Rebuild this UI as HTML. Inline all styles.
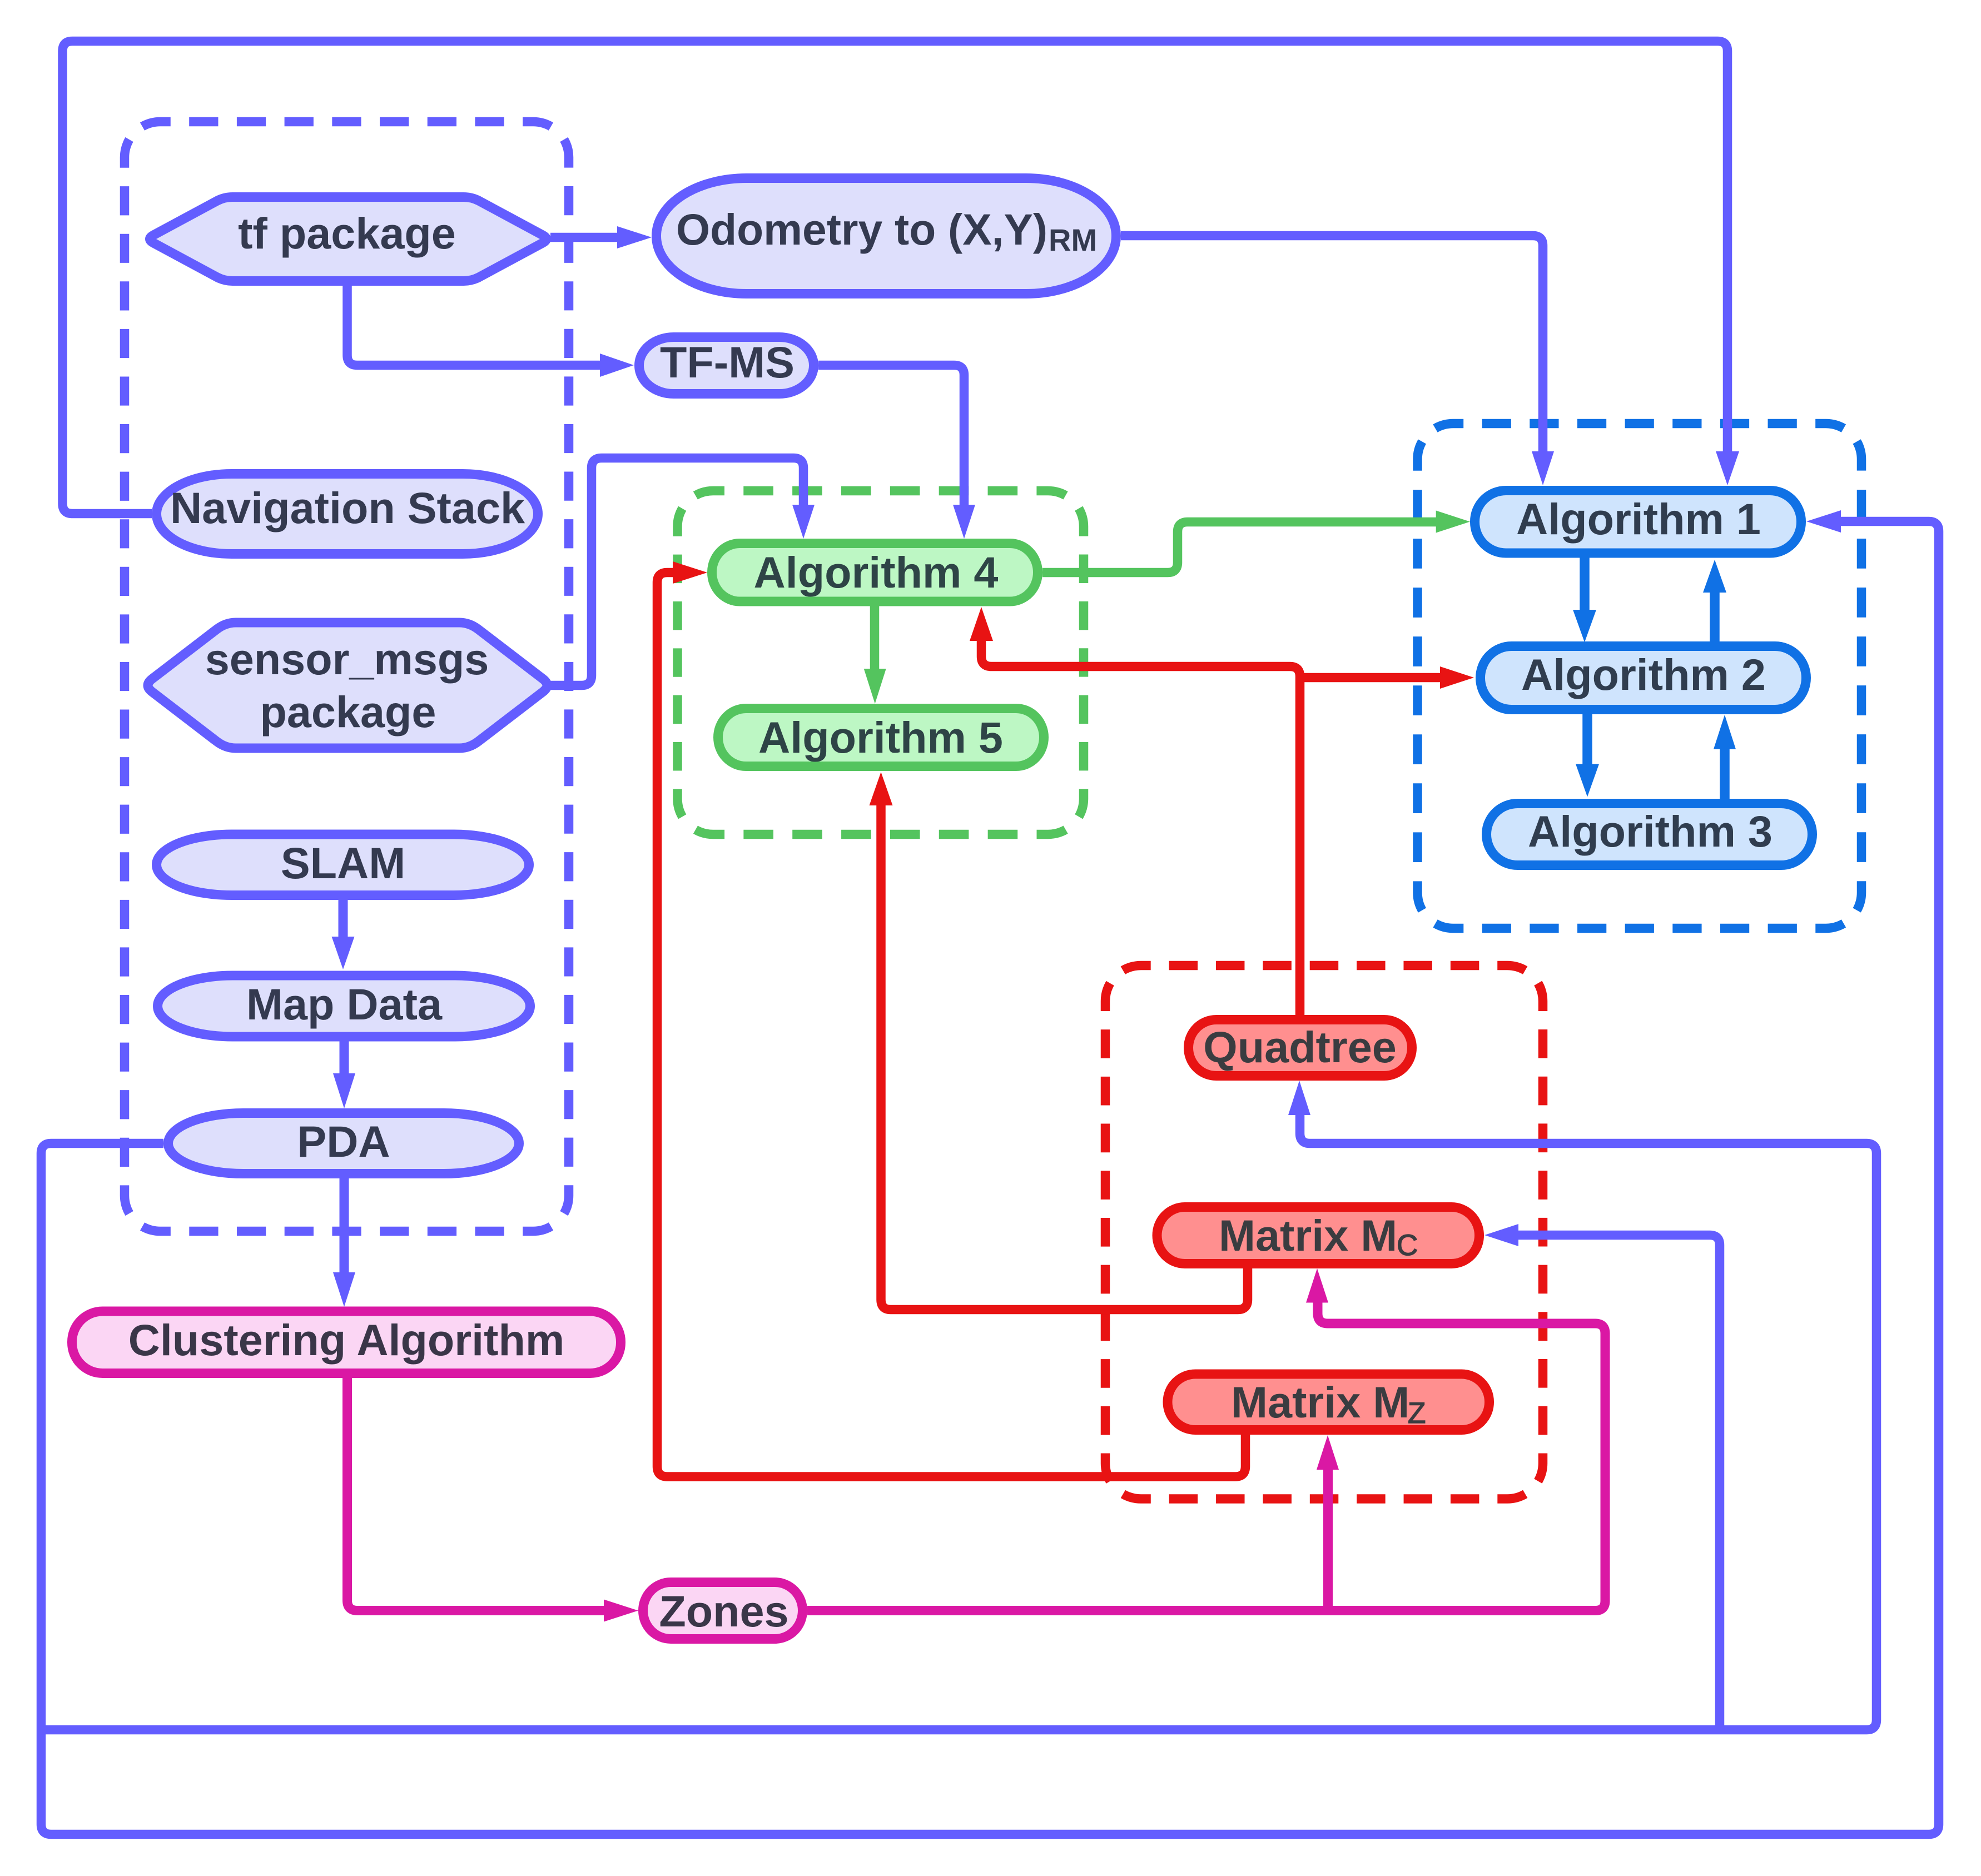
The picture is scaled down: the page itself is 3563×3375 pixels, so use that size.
<!DOCTYPE html>
<html>
<head>
<meta charset="utf-8">
<style>
html,body{margin:0;padding:0;background:#fff;}
svg{display:block;}
text{font-family:"Liberation Sans",sans-serif;font-weight:bold;font-size:79.2px;text-anchor:middle;}
.g{fill:none;stroke-width:16.5;stroke-dasharray:.61 .39;stroke-dashoffset:.805;}
.c{fill:none;stroke-width:16.5;}
.n{stroke-width:17;}
.pu{stroke:#635dff;}
.gr{stroke:#54c45e;}
.re{stroke:#e81313;}
.bl{stroke:#1071e5;}
.ma{stroke:#da18a4;}
.fpu{fill:#635dff;}
.fgr{fill:#54c45e;}
.fre{fill:#e81313;}
.fbl{fill:#1071e5;}
.fma{fill:#da18a4;}
.npu{fill:#dedffc;stroke:#635dff;}
.ngr{fill:#bdf7c4;stroke:#54c45e;}
.nre{fill:#ff8f8f;stroke:#e81313;}
.nbl{fill:#cfe4fd;stroke:#1071e5;}
.nma{fill:#fbd6f4;stroke:#da18a4;}
.tpu{fill:#343a50;}
.tgr{fill:#2e4446;}
.tre{fill:#3a3c40;}
.tbl{fill:#303d4f;}
.tma{fill:#3a3648;}
</style>
</head>
<body>
<svg xmlns="http://www.w3.org/2000/svg" width="3563" height="3375" viewBox="0 0 3563 3375">
<rect width="3563" height="3375" fill="#ffffff"/>

<!-- dashed groups -->
<g class="pu">
<path class="g" pathLength="9" d="M242.75 237.75A64 64 0 0 1 288 219H959A64 64 0 0 1 1004.25 237.75"/>
<path class="g" pathLength="23" d="M1004.25 237.75A64 64 0 0 1 1023 283V2151A64 64 0 0 1 1004.25 2196.25"/>
<path class="g" pathLength="9" d="M1004.25 2196.25A64 64 0 0 1 959 2215H288A64 64 0 0 1 242.75 2196.25"/>
<path class="g" pathLength="23" d="M242.75 2196.25A64 64 0 0 1 224 2151V283A64 64 0 0 1 242.75 237.75"/>
</g>
<g class="bl">
<path class="g" pathLength="9" d="M2568.25 780.75A64 64 0 0 1 2613.5 762H3284A64 64 0 0 1 3329.25 780.75"/>
<path class="g" pathLength="10" d="M3329.25 780.75A64 64 0 0 1 3348 826V1606A64 64 0 0 1 3329.25 1651.25"/>
<path class="g" pathLength="9" d="M3329.25 1651.25A64 64 0 0 1 3284 1670H2613.5A64 64 0 0 1 2568.25 1651.25"/>
<path class="g" pathLength="10" d="M2568.25 1651.25A64 64 0 0 1 2549.5 1606V826A64 64 0 0 1 2568.25 780.75"/>
</g>
<g class="gr">
<path class="g" pathLength="8" d="M1237.25 901.75A64 64 0 0 1 1282.5 883H1885A64 64 0 0 1 1930.25 901.75"/>
<path class="g" pathLength="7" d="M1930.25 901.75A64 64 0 0 1 1949 947V1437A64 64 0 0 1 1930.25 1482.25"/>
<path class="g" pathLength="8" d="M1930.25 1482.25A64 64 0 0 1 1885 1501H1282.5A64 64 0 0 1 1237.25 1482.25"/>
<path class="g" pathLength="7" d="M1237.25 1482.25A64 64 0 0 1 1218.5 1437V947A64 64 0 0 1 1237.25 901.75"/>
</g>
<g class="re">
<path class="g" pathLength="9" d="M2006.75 1755.75A64 64 0 0 1 2052 1737H2711A64 64 0 0 1 2756.25 1755.75"/>
<path class="g" pathLength="11" d="M2756.25 1755.75A64 64 0 0 1 2775 1801V2632.5A64 64 0 0 1 2756.25 2677.75"/>
<path class="g" pathLength="9" d="M2756.25 2677.75A64 64 0 0 1 2711 2696.5H2052A64 64 0 0 1 2006.75 2677.75"/>
<path class="g" pathLength="11" d="M2006.75 2677.75A64 64 0 0 1 1988 2632.5V1801A64 64 0 0 1 2006.75 1755.75"/>
</g>

<!-- purple connectors -->
<g class="c pu">
<path d="M990 427H1112"/>
<path d="M624.5 513V639Q624.5 657 642.5 657H1081"/>
<path d="M273 924H130Q112.5 924 112.5 906V92Q112.5 74 130 74H3089Q3107 74 3107 92V814"/>
<path d="M2016 424H2757Q2775 424 2775 442V814"/>
<path d="M990 1233H1046Q1064 1233 1064 1215V842Q1064 824 1082 824H1427Q1445 824 1445 842V910"/>
<path d="M1472 657H1716Q1734 657 1734 675V910"/>
<path d="M294 2057H92Q74 2057 74 2075V3282Q74 3300 92 3300H3469Q3487 3300 3487 3282V956Q3487 938 3469 938H3309"/>
<path d="M74 3112H3357Q3375 3112 3375 3094V2075Q3375 2057 3357 2057H2356Q2338 2057 2338 2039V2005"/>
<path d="M3093 3112V2240Q3093 2222 3075 2222H2730"/>
<path d="M617 1619V1687" stroke-width="17"/>
<path d="M619 1873V1933" stroke-width="17"/>
<path d="M619 2120V2291" stroke-width="17"/>
</g>
<g class="fpu">
<polygon points="1172,427 1110,407 1110,447"/>
<polygon points="1140,657 1079,636 1079,678"/>
<polygon points="3107,873 3086,812 3128,812"/>
<polygon points="2775,873 2755,812 2795,812"/>
<polygon points="1445,969 1425,908 1465,908"/>
<polygon points="1734,969 1714,908 1754,908"/>
<polygon points="3249,938 3311,918 3311,958"/>
<polygon points="2337,1944 2317,2006 2357,2006"/>
<polygon points="2670,2222 2731,2202 2731,2242"/>
<polygon points="617,1744 596.5,1685 637.5,1685"/>
<polygon points="619,1994 599,1931 639,1931"/>
<polygon points="619,2351 599,2289 639,2289"/>
</g>

<!-- green connectors -->
<g class="c gr">
<path d="M1875 1030H2100Q2118 1030 2118 1012V957Q2118 939 2136 939H2584"/>
<path d="M1573 1090V1205"/>
</g>
<g class="fgr">
<polygon points="2644,938.5 2582.7,918.5 2582.7,958.5"/>
<polygon points="1573.7,1266 1553.7,1203 1593.7,1203"/>
</g>

<!-- red connectors -->
<g class="c re">
<path d="M2338 1826V1217Q2338 1199 2320 1199H1783Q1765 1199 1765 1181V1151"/>
<path d="M2338 1219H2592"/>
<path d="M2244 2282V2338Q2244 2356 2226 2356H1602Q1584.5 2356 1584.5 2338V1447"/>
<path d="M2240 2581V2638Q2240 2656.5 2222 2656.5H1200Q1182 2656.5 1182 2638V1048Q1182 1030 1200 1030H1212"/>
</g>
<g class="fre">
<polygon points="1765,1092 1744,1153 1786,1153"/>
<polygon points="2651,1219 2590,1199 2590,1239"/>
<polygon points="1584.5,1389 1563.5,1449 1605.5,1449"/>
<polygon points="1272,1030 1210,1010 1210,1050"/>
</g>

<!-- blue connectors -->
<g class="c bl" style="stroke-width:17.5">
<path d="M2850 1003V1099"/>
<path d="M3084 1154V1064"/>
<path d="M2855 1285V1376"/>
<path d="M3102 1437V1346"/>
</g>
<g class="fbl">
<polygon points="2850,1155.5 2829,1097 2871,1097"/>
<polygon points="3084,1007 3063,1066 3105,1066"/>
<polygon points="2855,1433.5 2834,1374.5 2876,1374.5"/>
<polygon points="3102,1286 3082,1347.7 3122,1347.7"/>
</g>

<!-- magenta connectors -->
<g class="c ma" style="stroke-width:17">
<path d="M624.5 2479V2879Q624.5 2897.5 643 2897.5H1088"/>
<path d="M1452 2897.5H2869Q2887 2897.5 2887 2880V2399Q2887 2381 2869 2381H2388Q2370 2381 2370 2363V2342"/>
<path d="M2388.5 2897.5V2642"/>
</g>
<g class="fma">
<polygon points="1148,2897.5 1086,2877.5 1086,2917.5"/>
<polygon points="2369,2282 2349,2343.5 2389,2343.5"/>
<polygon points="2388,2582 2368,2644 2408,2644"/>
</g>

<!-- nodes -->
<path class="n npu" d="M276 423L391 361Q404 354.5 418 354.5L834 354.5Q848 354.5 861 361L976 423Q989 430 976 437L861 499Q848 505.5 834 505.5L418 505.5Q404 505.5 391 499L276 437Q263 430 276 423Z"/>
<text class="tpu" x="624" y="447">tf package</text>

<rect class="n npu" x="1180.5" y="320.5" width="827" height="208" rx="162" ry="104"/>
<text class="tpu" x="1216" y="440" style="text-anchor:start;font-size:78.6px">Odometry to (X,Y)<tspan x="1886" y="451" style="font-size:56px">RM</tspan></text>

<rect class="n npu" x="1149.5" y="606.5" width="314" height="102" rx="62" ry="51"/>
<text class="tpu" x="1308" y="679">TF-MS</text>

<rect class="n npu" x="281.5" y="852.5" width="686" height="144" rx="135" ry="72"/>
<text class="tpu" x="625" y="941">Navigation Stack</text>

<path class="n npu" d="M274 1221L390 1132Q406 1120 424 1120L826 1120Q844 1120 860 1132L976 1221Q992 1233 976 1245L860 1334Q844 1346 826 1346L424 1346Q406 1346 390 1334L274 1245Q258 1233 274 1221Z"/>
<text class="tpu" x="624" y="1213">sensor_msgs</text>
<text class="tpu" x="626" y="1308">package</text>

<rect class="n npu" x="281.5" y="1501" width="670" height="109.5" rx="135" ry="55"/>
<text class="tpu" x="617" y="1580">SLAM</text>

<rect class="n npu" x="283.5" y="1755" width="670" height="110" rx="135" ry="55"/>
<text class="tpu" x="619" y="1834">Map Data</text>

<rect class="n npu" x="302.5" y="2002.5" width="631" height="109" rx="135" ry="54.5"/>
<text class="tpu" x="618" y="2081">PDA</text>

<rect class="n nma" x="129.5" y="2359" width="987" height="111.5" rx="55" ry="55"/>
<text class="tma" x="623" y="2438">Clustering Algorithm</text>

<rect class="n nma" x="1156.5" y="2846.5" width="287" height="102" rx="50" ry="51"/>
<text class="tma" x="1302" y="2926">Zones</text>

<rect class="n ngr" x="1280.5" y="977.5" width="586" height="104.5" rx="50" ry="52"/>
<text class="tgr" x="1575.5" y="1057">Algorithm 4</text>

<rect class="n ngr" x="1291.5" y="1274.5" width="586" height="104" rx="50" ry="52"/>
<text class="tgr" x="1584" y="1354">Algorithm 5</text>

<rect class="n nbl" x="2652.5" y="882.5" width="587" height="112.5" rx="56" ry="56"/>
<text class="tbl" x="2947" y="961">Algorithm 1</text>

<rect class="n nbl" x="2662.5" y="1162.5" width="586" height="114" rx="56" ry="57"/>
<text class="tbl" x="2956" y="1241">Algorithm 2</text>

<rect class="n nbl" x="2673.5" y="1445.5" width="586" height="111" rx="56" ry="55.5"/>
<text class="tbl" x="2968" y="1523">Algorithm 3</text>

<rect class="n nre" x="2137.5" y="1834.5" width="402" height="101" rx="50" ry="50.5"/>
<text class="tre" x="2338" y="1911">Quadtree</text>

<rect class="n nre" x="2081" y="2171.5" width="579.5" height="102" rx="50" ry="51"/>
<text class="tre" x="2192" y="2250" style="text-anchor:start">Matrix M<tspan x="2512" y="2258" style="font-size:53px;font-weight:normal;stroke:#3a3c40;stroke-width:1.5">C</tspan></text>

<rect class="n nre" x="2100" y="2472" width="578.5" height="100.5" rx="50" ry="50"/>
<text class="tre" x="2214" y="2550" style="text-anchor:start">Matrix M<tspan x="2532" y="2560" style="font-size:53px;font-weight:normal;stroke:#3a3c40;stroke-width:1.5">Z</tspan></text>
</svg>
</body>
</html>
